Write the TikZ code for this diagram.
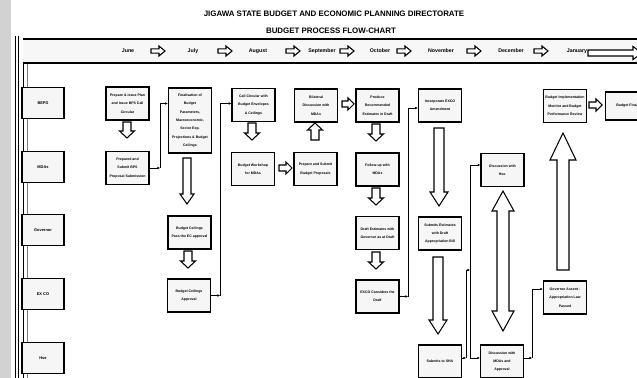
\documentclass[tikz,border=0pt]{standalone}
\usepackage{fontspec}
\setmainfont{Liberation Sans}
\usetikzlibrary{arrows.meta,calc}
\tikzset{
 box/.style={draw=black, line width=1.4pt, fill=gray!7, minimum width=1.72cm, minimum height=1.32cm, inner sep=1pt, align=center, font=\bfseries\fontsize{4}{9.5}\selectfont},
 lbl/.style={box, minimum width=1.68cm, minimum height=1.24cm, font=\bfseries\fontsize{4.5}{6}\selectfont},
 conn/.style={line width=0.8pt, -{Latex[length=3pt,width=3pt]}},
 blk/.style={draw=black, line width=1.2pt, fill=white, line join=miter},
 month/.style={font=\bfseries\fontsize{6}{7}\selectfont},
 ttl/.style={font=\bfseries\fontsize{9}{10}\selectfont},
}
% down: x, ytop, ytip, shaft half, head half, head length
\newcommand\bdown[6]{\draw[blk] ({#1-#4},#2) -- ({#1-#4},{#3-#6}) -- ({#1-#5},{#3-#6}) -- (#1,#3) -- ({#1+#5},{#3-#6}) -- ({#1+#4},{#3-#6}) -- ({#1+#4},#2) -- cycle;}
% up: x, ybase, ytip (smaller), shaft half, head half, head length
\newcommand\bup[6]{\draw[blk] ({#1-#4},#2) -- ({#1-#4},{#3+#6}) -- ({#1-#5},{#3+#6}) -- (#1,#3) -- ({#1+#5},{#3+#6}) -- ({#1+#4},{#3+#6}) -- ({#1+#4},#2) -- cycle;}
% right: y, xstart, xtip, shaft half, head half, head length
\newcommand\bright[6]{\draw[blk] (#2,{#1-#4}) -- ({#3-#6},{#1-#4}) -- ({#3-#6},{#1-#5}) -- (#3,#1) -- ({#3-#6},{#1+#5}) -- ({#3-#6},{#1+#4}) -- (#2,{#1+#4}) -- cycle;}
% double vertical: x, ytop tip, ybottom tip, shaft half, head half, head length
\newcommand\bud[6]{\draw[blk] (#1,#2) -- ({#1+#5},{#2+#6}) -- ({#1+#4},{#2+#6}) -- ({#1+#4},{#3-#6}) -- ({#1+#5},{#3-#6}) -- (#1,#3) -- ({#1-#5},{#3-#6}) -- ({#1-#4},{#3-#6}) -- ({#1-#4},{#2+#6}) -- ({#1-#5},{#2+#6}) -- cycle;}
\begin{document}
\begin{tikzpicture}[x=0.04cm,y=-0.04cm]
\useasboundingbox (0,0) rectangle (637,378);
\clip (0,0) rectangle (637,378);
\fill[white] (0,0) rectangle (637,378);
% scanned left edge
\fill[gray!35] (0,0) rectangle (11,378);
\draw[line width=0.9pt] (15,36) -- (15,378);
\draw[line width=0.9pt] (18,36) -- (18,378);
\draw[line width=0.8pt] (23,39) -- (23,378);
\draw[line width=0.6pt, gray] (27,63) -- (27,378);
% titles
\node[ttl] (title) at (334,14) {JIGAWA STATE BUDGET AND ECONOMIC PLANNING DIRECTORATE};
\node[ttl] (sub) at (331,31) {BUDGET PROCESS FLOW-CHART};
% month band
\fill[gray!6] (23,39) rectangle (640,63);
\draw[line width=1.5pt] (23,39) -- (640,39);
\draw[line width=1.5pt] (23,63) -- (640,63);
\node[month] (m1) at (128,51) {June};
\node[month] (m2) at (193,51) {July};
\node[month] (m3) at (258,51) {August};
\node[month] (m4) at (322,51) {September};
\node[month] (m5) at (380,51) {October};
\node[month] (m6) at (441,51) {November};
\node[month] (m7) at (511,51) {December};
\node[month] (m8) at (577,51) {January};
\foreach \xx in {158,225,293,347,404,474,541}{\bright{51}{\xx-7}{\xx+7}{2.2}{5}{6}}
\bright{53}{588}{642}{3}{6.5}{9}
% row labels
\node[lbl] (lBEPD) at (43,103) {BEPD};
\node[lbl] (lMDA) at (43,167) {MDAs};
\node[lbl] (lGov) at (43,230) {Governor};
\node[lbl] (lEXCO) at (43,294) {EX CO};
\node[lbl] (lHse) at (43,358) {Hse};
% June
\node[box] (juneB) at (127.5,103.5) {Prepare \& issue Plan\\and Issue BPS Call\\Circular};
\node[box] (juneM) at (127.5,168) {Prepared and\\Submit BPS\\Proposal Submission};
% July
\node[box, minimum height=2.6cm] (julyB) at (190,120.5) {Finalisation of\\Budget\\Parameters,\\Macroeconomic,\\Sector Exp.\\Projections \& Budget\\Ceilings};
\node[box] (julyG) at (189.5,232.5) {Budget Ceilings\\Pass the EC approval};
\node[box] (julyE) at (189,295.5) {Budget Ceilings\\Approval};
% August
\node[box] (augB) at (253.5,105) {Call Circular with\\Budget Envelopes\\\& Ceilings};
\node[box] (augM) at (253,169) {Budget Workshop\\for MDAs};
% September
\node[box] (sepB) at (316,105.5) {Bilateral\\Discussion with\\MDAs};
\node[box] (sepM) at (315.5,169) {Prepare and Submit\\Budget Proposals};
% October
\node[box] (octB) at (377.5,105.5) {Produce\\Recommended\\Estimates in Draft};
\node[box] (octM) at (377.5,169.5) {Follow-up with\\MDAs};
\node[box] (octG) at (377.5,233) {Draft Estimates with\\Governor as at Draft};
\node[box] (octE) at (377.5,296.5) {EXCO Considers the\\Draft};
% November
\node[box] (novB) at (440,105.5) {Incorporate EXCO\\Amendment};
\node[box] (novG) at (440,233.5) {Submits Estimates\\with Draft\\Appropriation Bill};
\node[box] (novH) at (440,361.5) {Submits to SHA};
% December
\node[box] (decM) at (502.5,170) {Discussion with\\Hse.};
\node[box] (decH) at (502,361.5) {Discussion with\\MDAs and\\Approval};
% January
\node[box] (janE) at (565,297.5) {Governor Assent -\\Appropriation Law\\Passed};
\node[box] (janB) at (565,106) {Budget Implementation\\Monitor and Budget\\Performance Review};
\node[box, minimum height=1.12cm] (finB) at (627,106) {Budget Final};
% block arrows
\bdown{127}{122}{138}{4}{7.5}{7}
\bdown{187}{158}{204}{4}{7}{10}
\bdown{188}{251}{268}{4}{7.5}{7}
\bdown{252}{123}{140}{4}{7.5}{7}
\bup{315}{140}{123}{4}{7.5}{7}
\bright{168}{279}{292}{3}{6}{6}
\bright{104}{342}{354}{3}{6}{6}
\bdown{376}{124}{141}{4}{7.5}{7}
\bdown{376}{188}{205}{4}{7.5}{7}
\bdown{376}{252}{269}{4}{7.5}{7}
\bdown{439}{128}{206}{5}{9}{14}
\bdown{438}{257}{334}{5}{9}{14}
\bud{503}{191}{331}{6}{11}{20}
\bup{563}{270}{133}{6}{13}{27}
\bright{105}{589}{602}{3}{6}{6}
% thin connectors
\coordinate (c1) at (160,168);
\draw[conn] (juneM.east) -- (c1);
\draw[conn] (c1) |- (julyB.west |- juneB.east);
\coordinate (c2) at (220,295.5);
\draw[conn] (julyE.east) -- (c2);
\draw[conn] (c2) |- (augB.west |- juneB.east);
\coordinate (c3) at (408,296.5);
\draw[conn] (octE.east) -- (c3);
\draw[conn] (c3) |- (novB.west |- 0,108);
\coordinate (c4) at (466,358);
\coordinate (c5) at (470,270);
\draw[conn] (novH.east |- c4) -- (c4);
\draw[conn] (c4) |- (c5);
\draw[conn] (c5) |- (decM.west |- 0,165);
\draw[conn] (c5) |- (decH.west |- c4);
\coordinate (c6) at (532,358);
\draw[conn] (decH.east |- c6) -- (c6);
\draw[conn] (c6) |- (janE.west |- 0,289);
\end{tikzpicture}
\end{document}
